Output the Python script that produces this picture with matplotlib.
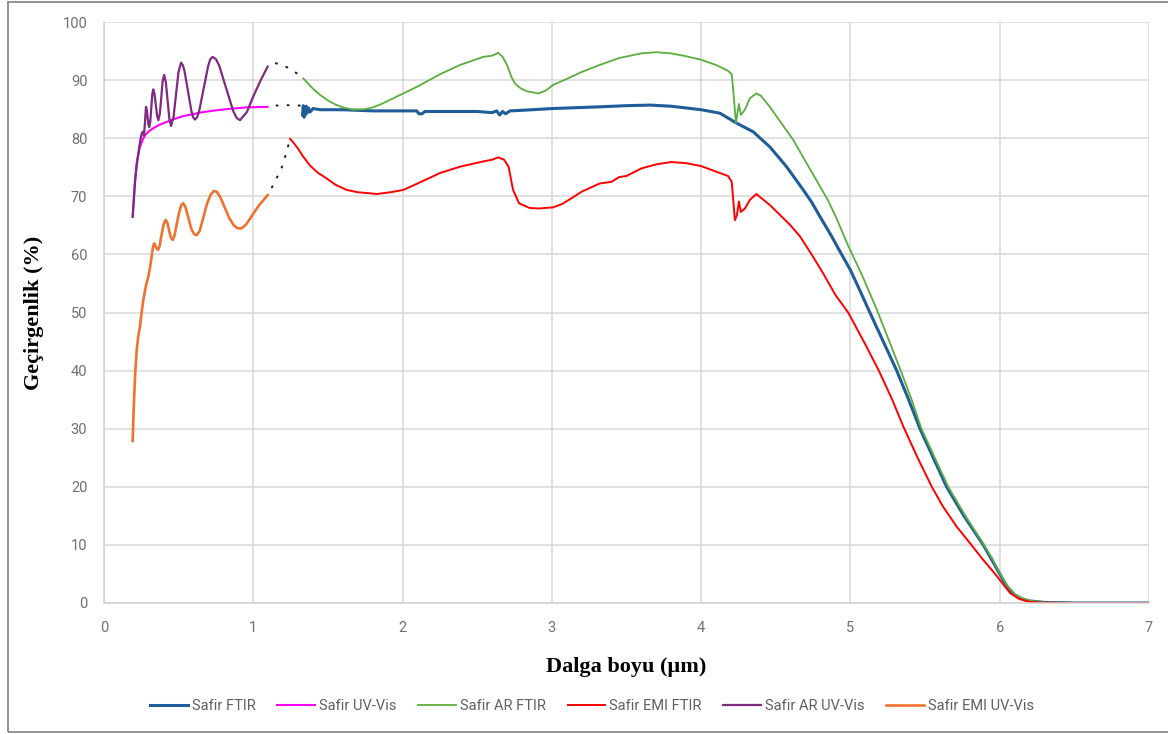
import matplotlib.pyplot as plt
import matplotlib.patches as patches

# Safir FTIR
ftir_x = [1.33, 1.335, 1.34, 1.345, 1.35, 1.355, 1.36, 1.37, 1.38, 1.40, 1.45, 1.49, 1.6, 1.8,
          2.0, 2.095, 2.11, 2.13, 2.15, 2.3, 2.5, 2.6, 2.63, 2.65, 2.67, 2.69, 2.72, 2.8,
          3.0, 3.32, 3.5, 3.66, 3.8, 3.9, 4.0, 4.126, 4.237, 4.349, 4.46, 4.572, 4.684,
          4.74, 4.796, 4.87, 4.93, 5.0, 5.065, 5.13, 5.22, 5.31, 5.39, 5.466, 5.555, 5.644,
          5.76, 5.89, 5.95, 6.0, 6.05, 6.1, 6.15, 6.2, 6.3, 6.5, 7.0]
ftir_y = [84.0, 85.6, 83.6, 85.3, 84.1, 85.5, 84.3, 85.2, 84.5, 85.1, 84.9, 84.9, 84.9, 84.7,
          84.7, 84.7, 84.2, 84.2, 84.6, 84.6, 84.6, 84.4, 84.7, 84.0, 84.6, 84.2, 84.7, 84.8,
          85.1, 85.4, 85.6, 85.7, 85.5, 85.2, 84.9, 84.3, 82.6, 81.1, 78.5, 75.1, 71.1,
          69.0, 66.5, 63.3, 60.5, 57.3, 53.7, 50.0, 45.0, 40.0, 35.0, 30.0, 25.0, 20.0,
          15.0, 10.0, 7.3, 5.0, 2.8, 1.4, 0.7, 0.35, 0.1, 0.0, 0.0]

# Safir UV-Vis
uv_x = [0.192, 0.205, 0.22, 0.241, 0.26, 0.275, 0.30, 0.33, 0.37, 0.42, 0.47, 0.53, 0.59,
        0.643, 0.72, 0.82, 0.95, 1.096]
uv_y = [66.5, 71.5, 76.0, 78.5, 79.8, 80.5, 81.2, 81.7, 82.3, 82.8, 83.3, 83.8, 84.1,
        84.4, 84.7, 85.0, 85.3, 85.4]

# Safir AR FTIR
ar_ftir_x = [1.335, 1.36, 1.40, 1.45, 1.50, 1.55, 1.60, 1.67, 1.75, 1.80, 1.85, 1.90, 2.005,
             2.1, 2.25, 2.385, 2.54, 2.60, 2.64, 2.67, 2.70, 2.73, 2.753, 2.79, 2.83, 2.91,
             2.96, 3.01, 3.1, 3.2, 3.32, 3.45, 3.6, 3.7, 3.8, 3.9, 4.0, 4.1, 4.18, 4.205,
             4.215, 4.233, 4.253, 4.266, 4.293, 4.327, 4.37, 4.40, 4.46, 4.617, 4.695,
             4.796, 4.85, 4.907, 4.985, 5.08, 5.175, 5.255, 5.337, 5.41, 5.476, 5.565, 5.655,
             5.77, 5.895, 5.955, 6.0, 6.05, 6.1, 6.15, 6.2, 6.3, 6.5, 7.0]
ar_ftir_y = [90.3, 89.6, 88.5, 87.4, 86.5, 85.8, 85.3, 84.9, 85.0, 85.3, 85.8, 86.4, 87.7,
             88.9, 91.0, 92.6, 94.0, 94.2, 94.7, 94.0, 92.6, 90.5, 89.4, 88.6, 88.1, 87.7,
             88.2, 89.2, 90.2, 91.4, 92.6, 93.8, 94.6, 94.8, 94.6, 94.1, 93.5, 92.6, 91.6, 91.0,
             88.3, 82.6, 85.9, 84.0, 84.9, 86.9, 87.7, 87.3, 85.4, 79.7, 76.2,
             71.7, 69.3, 66.2, 61.5, 56.3, 50.6, 45.4, 40.0, 35.0, 30.0, 25.0, 20.0,
             15.0, 10.0, 7.4, 5.2, 3.0, 1.5, 0.8, 0.4, 0.1, 0.0, 0.0]

# Safir EMI FTIR
emi_ftir_x = [1.246, 1.27, 1.30, 1.335, 1.38, 1.43, 1.49, 1.55, 1.625, 1.7, 1.83, 1.92, 2.005,
              2.1, 2.25, 2.385, 2.54, 2.6, 2.64, 2.68, 2.71, 2.74, 2.78, 2.85, 2.91, 3.01,
              3.07, 3.14, 3.2, 3.32, 3.4, 3.45, 3.5, 3.6, 3.7, 3.8, 3.9, 4.0, 4.126, 4.18,
              4.205, 4.226, 4.24, 4.253, 4.266, 4.293, 4.327, 4.37, 4.46, 4.595, 4.662,
              4.74, 4.818, 4.9, 4.985, 5.1, 5.19, 5.28, 5.354, 5.45, 5.545, 5.62, 5.71, 5.81,
              5.89, 5.95, 6.0, 6.07, 6.13, 6.2, 6.3, 6.5, 7.0]
emi_ftir_y = [79.9, 79.2, 78.2, 76.8, 75.3, 74.1, 73.1, 72.0, 71.1, 70.7, 70.4, 70.7, 71.1,
              72.2, 74.0, 75.1, 76.0, 76.3, 76.7, 76.3, 75.1, 71.1, 68.8, 68.0, 67.9, 68.1,
              68.7, 69.8, 70.8, 72.2, 72.5, 73.3, 73.5, 74.8, 75.5, 75.9, 75.7, 75.2, 74.0, 73.5,
              72.5, 65.9, 66.8, 69.1, 67.3, 67.9, 69.4, 70.4, 68.5, 65.1, 63.1,
              60.0, 56.7, 53.0, 50.0, 44.5, 40.0, 35.0, 30.4, 25.0, 20.0, 16.6, 13.2, 10.0,
              7.4, 5.6, 4.0, 1.7, 0.7, 0.2, 0.05, 0.0, 0.0]

# Safir AR UV-Vis
ar_uv_x = [0.192, 0.20, 0.208, 0.22, 0.23, 0.238, 0.246, 0.253, 0.259, 0.264, 0.268, 0.274,
           0.281, 0.2865, 0.292, 0.2975, 0.303, 0.31, 0.3165, 0.323, 0.33, 0.3385, 0.347,
           0.3555, 0.364, 0.374, 0.3835, 0.393, 0.403, 0.4145, 0.426, 0.4375, 0.449, 0.466,
           0.4825, 0.499, 0.516, 0.5276, 0.539, 0.5625, 0.586, 0.597, 0.609, 0.6238, 0.6385,
           0.668, 0.6975, 0.712, 0.727, 0.75, 0.773, 0.819, 0.865, 0.888, 0.911, 0.957,
           1.0, 1.05, 1.096]
ar_uv_y = [66.5, 69.5, 72.8, 75.5, 77.4, 78.8, 80.0, 80.8, 81.1, 80.9, 80.5, 82.5,
           85.4, 84.9, 83.65, 82.4, 81.9, 82.85, 85.15, 87.45, 88.4, 87.6, 85.75,
           83.9, 83.1, 84.2, 87.0, 89.8, 90.9, 89.6, 86.5, 83.4, 82.1, 83.7,
           87.55, 91.4, 93.0, 92.6, 91.6, 88.1, 84.6, 83.6, 83.2, 83.6, 84.8,
           88.6, 92.4, 93.6, 94.0, 93.6, 92.4, 88.55, 84.7, 83.5, 83.1, 84.5,
           87.2, 90.0, 92.3]

# Safir EMI UV-Vis
emi_uv_x = [0.192, 0.197, 0.203, 0.21, 0.219, 0.23, 0.241, 0.252, 0.263, 0.28, 0.297, 0.31,
            0.322, 0.33, 0.336, 0.343, 0.352, 0.363, 0.373, 0.385, 0.398, 0.407, 0.415,
            0.425, 0.437, 0.448, 0.46, 0.472, 0.487, 0.503, 0.518, 0.531, 0.545, 0.565,
            0.585, 0.603, 0.62, 0.64, 0.665, 0.69, 0.715, 0.735, 0.755, 0.78, 0.81, 0.84,
            0.87, 0.895, 0.922, 0.95, 0.98, 1.01, 1.04, 1.07, 1.096]
emi_uv_y = [27.9, 32.0, 36.1, 40.0, 43.5, 46.0, 47.6, 50.0, 52.1, 54.5, 56.2, 58.0,
            60.2, 61.5, 61.9, 61.6, 61.0, 60.8, 61.5, 63.3, 65.0, 65.7, 65.9,
            65.4, 64.0, 62.9, 62.5, 63.2, 65.2, 67.2, 68.5, 68.8, 68.2, 66.3,
            64.4, 63.5, 63.3, 64.0, 66.3, 68.7, 70.3, 70.9, 70.8, 69.8, 68.0, 66.2,
            65.0, 64.5, 64.5, 65.1, 66.2, 67.4, 68.5, 69.4, 70.2]

# dotted joins between the UV-Vis and FTIR ranges
join_ar_x = [1.096, 1.152, 1.219, 1.279, 1.335]
join_ar_y = [92.3, 92.9, 92.3, 91.4, 90.3]
join_uv_x = [1.096, 1.2, 1.335]
join_uv_y = [85.5, 85.7, 85.6]
join_emi_x = [1.096, 1.139, 1.19, 1.223, 1.246]
join_emi_y = [70.2, 72.2, 74.9, 77.6, 79.9]

fig = plt.figure(figsize=(11.68, 7.34), dpi=100)
ax = fig.add_axes([104 / 1168, 131 / 734, 1045 / 1168, 581 / 734])

ax.plot(ftir_x, ftir_y, color='#1F5C99', lw=2.2, label='Safir FTIR')
ax.plot(uv_x, uv_y, color='#FF00FF', lw=1.5, label='Safir UV-Vis')
ax.plot(ar_ftir_x, ar_ftir_y, color='#5AAE3E', lw=1.3, label='Safir AR FTIR')
ax.plot(emi_ftir_x, emi_ftir_y, color='#FF0000', lw=1.4, label='Safir EMI FTIR')
ax.plot(ar_uv_x, ar_uv_y, color='#7E2A80', lw=1.6, label='Safir AR UV-Vis')
ax.plot(emi_uv_x, emi_uv_y, color='#EE7331', lw=1.9, label='Safir EMI UV-Vis')

for jx, jy in [(join_ar_x, join_ar_y), (join_uv_x, join_uv_y), (join_emi_x, join_emi_y)]:
    ax.plot(jx, jy, color='#222222', lw=1.5, linestyle=(1, (0.5, 4.8)),
            dash_capstyle='round')

ax.set_xlim(0, 7)
ax.set_ylim(0, 100)
ax.set_xticks(range(0, 8))
ax.set_yticks(range(0, 101, 10))
ax.grid(True, color='#D9D9D9', lw=1.1)
ax.set_axisbelow(True)
for side in ['top', 'right']:
    ax.spines[side].set_visible(False)
for side in ['left', 'bottom']:
    ax.spines[side].set_color('#D0D0D0')
    ax.spines[side].set_linewidth(1.1)
ax.tick_params(length=0, labelsize=10.5, labelcolor='#707070')
ax.tick_params(axis='x', pad=13)
ax.tick_params(axis='y', pad=12)
for t in ax.get_xticklabels() + ax.get_yticklabels():
    t.set_fontfamily('Roboto')

ax.set_xlabel('Dalga boyu (µm)', fontsize=16, fontweight='bold',
              family='Liberation Serif')
ax.set_ylabel('Geçirgenlik (%)', fontsize=16, fontweight='bold',
              family='Liberation Serif')
ax.xaxis.set_label_coords(0.5, -0.093)
ax.yaxis.set_label_coords(-0.057, 0.5)

leg = fig.legend(loc='center', bbox_to_anchor=(592 / 1168, 1 - 706 / 734), ncol=6,
                 frameon=False, handlelength=2.6, handletextpad=0.25,
                 columnspacing=1.5, prop={'family': 'Roboto', 'size': 10.5})
for t in leg.get_texts():
    t.set_color('#606060')

fig.add_artist(patches.Rectangle((8 / 1168, 2 / 734), 1.2, 730 / 734,
                                 transform=fig.transFigure, fill=False,
                                 edgecolor='#8A8A8A', lw=1.3))

fig.savefig('out.png', dpi=100)
